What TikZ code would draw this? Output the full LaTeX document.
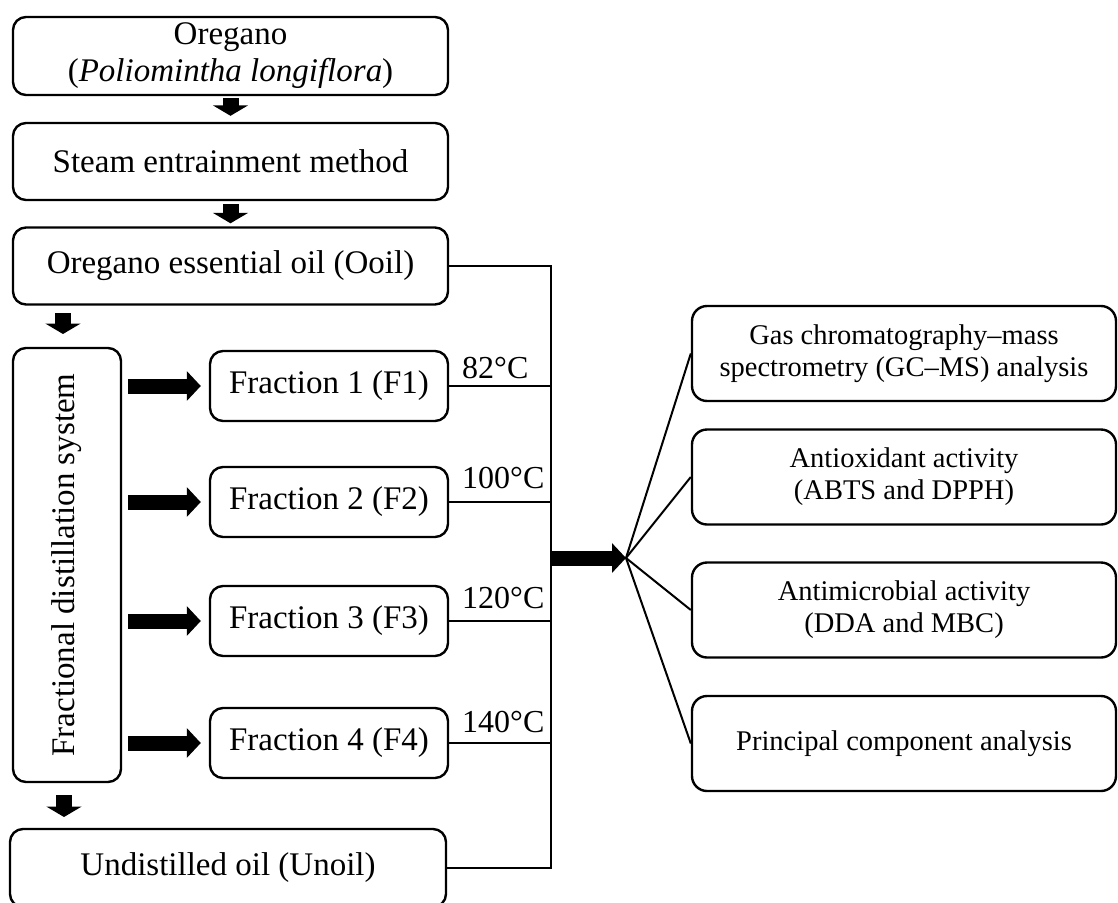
\documentclass[tikz,border=0pt]{standalone}
\usepackage{fontspec}
\setmainfont{Liberation Serif}
\usetikzlibrary{arrows.meta}
\begin{document}
\begin{tikzpicture}[x=1pt,y=-1pt,
  box/.style={draw, line width=2.4pt, rounded corners=13pt, inner sep=0pt, align=center,
    font=\fontsize{33}{37}\selectfont},
  lbox/.style={box, minimum width=435pt, minimum height=77pt},
  fbox/.style={box, minimum width=238pt, minimum height=70pt},
  rbox/.style={box, minimum width=424pt, minimum height=95pt, rounded corners=15pt,
    font=\fontsize{28.5}{32}\selectfont},
  temp/.style={anchor=base west, inner sep=0pt, font=\fontsize{32}{36}\selectfont},
  conn/.style={line width=2pt},
  downarrow/.style={line width=16pt, -{Triangle[width=35pt,length=10.5pt]}},
  sidearrow/.style={line width=15pt, -{Triangle[width=29pt,length=14pt]}},
]
\useasboundingbox (0,0) rectangle (1118,902);
\clip (0,0) rectangle (1118,902);

% left column
\node[lbox, minimum height=78pt] (ore) at (230.5,56)
  {\raisebox{-3pt}{\begin{tabular}{@{}c@{}}Oregano\\(\textit{Poliomintha longiflora})\end{tabular}}};
\node[lbox] (steam) at (230.5,161.5) {Steam entrainment method};
\node[lbox] (ooil) at (230.5,266) {Oregano essential oil (Ooil)};
\node[box, minimum width=108pt, minimum height=434pt] (frac) at (67,565)
  {\rotatebox{90}{Fractional distillation system}};
\node[box, minimum width=436pt, minimum height=78pt] (unoil) at (228,868) {Undistilled oil (Unoil)};

% fractions
\node[fbox] (f1) at (329,386) {Fraction 1 (F1)};
\node[fbox] (f2) at (329,502) {Fraction 2 (F2)};
\node[fbox] (f3) at (329,621) {Fraction 3 (F3)};
\node[fbox] (f4) at (329,743) {Fraction 4 (F4)};

% temperatures
\node[temp] (t1) at (462,378) {82\textdegree C};
\node[temp] (t2) at (462,488) {100\textdegree C};
\node[temp] (t3) at (462,608) {120\textdegree C};
\node[temp] (t4) at (462,732) {140\textdegree C};

% right column
\node[rbox] (gc) at (904,353.5) {Gas chromatography--mass\\spectrometry (GC--MS) analysis};
\node[rbox] (ao) at (904,477) {Antioxidant activity\\(ABTS and DPPH)};
\node[rbox] (am) at (904,610) {Antimicrobial activity\\(DDA and MBC)};
\node[rbox] (pca) at (904,743.5) {Principal component analysis};

% collector line
\coordinate (vtop) at (551,266);
\coordinate (vbot) at (551,868);
\coordinate (apex) at (626,558);
\draw[conn] (ooil.east) -- (vtop) -- (vbot) -- (unoil.east);
\foreach \f in {f1,f2,f3,f4}{
  \draw[conn] (\f.east) -- (\f.east -| vtop);
}

% down arrows
\draw[downarrow, shorten <=2pt, shorten >=6pt] (ore.south) -- (steam.north);
\draw[downarrow, shorten <=3pt, shorten >=3pt] (steam.south) -- (ooil.north);
\coordinate (da1) at (63,304);
\coordinate (da2) at (63,348);
\draw[downarrow, shorten <=9pt, shorten >=14pt] (da1) -- (da2);
\coordinate (db1) at (64,782);
\coordinate (db2) at (64,829);
\draw[downarrow, shorten <=13pt, shorten >=12pt] (db1) -- (db2);

% side arrows
\foreach \f in {f1,f2,f3,f4}{
  \draw[sidearrow, shorten <=6pt, shorten >=8pt] (frac.east |- \f.west) -- (\f.west);
}

% big arrow and fan
\draw[sidearrow] (vtop |- apex) -- (apex);
\foreach \r in {gc,ao,am,pca}{
  \draw[conn] (apex) -- (\r.west);
}
\end{tikzpicture}
\end{document}
